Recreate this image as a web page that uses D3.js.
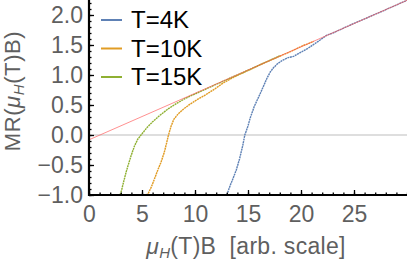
<!DOCTYPE html>
<html lang="en">
  <head>
    <meta charset="utf-8" />
    <script src="https://d3js.org/d3.v7.min.js"></script>
    <style>
      body { margin: 0; background: white; }
      text { font-family: "Liberation Sans", Arial, sans-serif; }
    </style>
  </head>
  <body>
    <script type="text/javascript">

      // data
      var seriesNames = ["T=4K", "T=10K", "T=15K"];
      var seriesColors = ["#5e81b5", "#e19c24", "#8fb032"];

      var blueX = [0, 13.0, 13.3, 13.6, 13.9, 14.2, 14.5, 14.7, 15.0, 15.2, 15.6,
                   16.1, 16.5, 16.8, 17.1, 17.4, 17.8, 18.3, 18.8, 19.3, 19.8,
                   20.2, 20.7, 21.2, 21.7, 22.4, 23, 25, 27.5, 30];
      var blueY = [-1, -1, -0.85, -0.72, -0.58, -0.4, -0.18, 0.0, 0.15, 0.28, 0.48,
                   0.67, 0.83, 0.95, 1.05, 1.12, 1.19, 1.25, 1.29, 1.31, 1.36,
                   1.40, 1.45, 1.51, 1.57, 1.66, 1.70, 1.86, 2.05, 2.245];

      var orangeX = [0, 5.4, 5.6, 5.9, 6.2, 6.5, 6.8, 7.1, 7.3, 7.5, 7.75, 8.0,
                     8.4, 8.9, 9.5, 10.2, 11.0, 11.8, 12.6, 13.4, 14.2, 15.2,
                     16.4, 17.7, 19.0, 20.2, 21.2];
      var orangeY = [-1, -1, -0.97, -0.86, -0.72, -0.58, -0.45, -0.29, -0.15, 0.0,
                     0.15, 0.26, 0.35, 0.43, 0.51, 0.59, 0.67, 0.76, 0.86, 0.94,
                     1.01, 1.09, 1.19, 1.29, 1.39, 1.49, 1.56];

      var greenX = [0, 2.9, 3.0, 3.24, 3.5, 3.7, 4.0, 4.3, 4.6, 5.0, 5.5, 6.0,
                    6.7, 7.5, 8.3, 9.2, 10.2, 11.2, 12.2, 13.2, 14.5, 16, 17, 18];
      var greenY = [-1, -1, -0.97, -0.8, -0.62, -0.5, -0.33, -0.18, -0.07, 0.02,
                    0.13, 0.22, 0.33, 0.44, 0.53, 0.62, 0.7, 0.78, 0.86, 0.94,
                    1.04, 1.16, 1.24, 1.32];

      // straight reference line (red)
      var fitX = [0, 30];
      var fitY = [-0.08, 2.245];

      var yMajorTicks = [-1, -0.5, 0, 0.5, 1, 1.5, 2];
      var xMajorTicks = [0, 5, 10, 15, 20, 25];

      // variables svg
      var w = 407;
      var h = 264;
      var plotLeft = 89;
      var plotRight = 407;
      var plotTop = 0;
      var plotBottom = 195;

      var svg = d3.select("body")
                  .append("svg")
                  .attr("width", w)
                  .attr("height", h);

      var xScale = d3.scaleLinear().domain([0, 30]).range([plotLeft, plotRight]);
      var yScale = d3.scaleLinear().domain([-1, 2.25]).range([plotBottom, plotTop]);

      svg.append("clipPath")
         .attr("id", "plotArea")
         .append("rect")
         .attr("x", plotLeft)
         .attr("y", plotTop)
         .attr("width", plotRight - plotLeft)
         .attr("height", plotBottom - plotTop);

      var line = d3.line()
                   .x(function(d) { return xScale(d[0]); })
                   .y(function(d) { return yScale(d[1]); });

      var plot = svg.append("g").attr("clip-path", "url(#plotArea)");

      // zero line
      plot.append("path")
          .datum([[0, 0], [30, 0]])
          .attr("d", line)
          .attr("fill", "none")
          .attr("stroke", "#bdbdbd")
          .attr("stroke-width", 1);

      // the three curves
      var curves = [d3.zip(blueX, blueY), d3.zip(orangeX, orangeY), d3.zip(greenX, greenY)];
      curves.forEach(function(c, i) {
        plot.append("path")
            .datum(c)
            .attr("d", line)
            .attr("fill", "none")
            .attr("stroke", seriesColors[i])
            .attr("stroke-width", 1.4)
            .attr("stroke-dasharray", "2,0.6");
      });

      // red line on top
      plot.append("path")
          .datum(d3.zip(fitX, fitY))
          .attr("d", line)
          .attr("fill", "none")
          .attr("stroke", "#ff5a5a")
          .attr("stroke-opacity", 0.75)
          .attr("stroke-width", 0.9);

      // axes: minor ticks first, then major ticks with labels
      var yMinor = d3.range(-10, 23).map(function(v) { return v / 10; });
      var xMinor = d3.range(0, 31);

      svg.append("g")
         .attr("transform", "translate(" + plotLeft + ",0)")
         .call(d3.axisLeft(yScale).tickValues(yMinor).tickFormat("")
                 .tickSizeInner(-2.5).tickSizeOuter(0));
      svg.append("g")
         .attr("transform", "translate(0," + plotBottom + ")")
         .call(d3.axisBottom(xScale).tickValues(xMinor).tickFormat("")
                 .tickSizeInner(-2.5).tickSizeOuter(0));

      svg.append("g")
         .attr("class", "axis")
         .attr("transform", "translate(" + plotLeft + ",0)")
         .call(d3.axisLeft(yScale).tickValues(yMajorTicks)
                 .tickFormat(function(d) { return d3.format(".1f")(d).replace("-", "\u2212"); })
                 .tickSizeInner(-5).tickSizeOuter(0).tickPadding(6));

      svg.append("g")
         .attr("class", "axis")
         .attr("transform", "translate(0," + plotBottom + ")")
         .call(d3.axisBottom(xScale).tickValues(xMajorTicks)
                 .tickFormat(d3.format("d"))
                 .tickSizeInner(-5).tickSizeOuter(0).tickPadding(11));

      svg.selectAll(".domain").remove();
      svg.selectAll(".tick line").attr("stroke", "black").attr("stroke-width", 1.3);
      svg.selectAll(".axis text")
         .attr("fill", "#5f5f5f")
         .style("font-size", "23px");

      // frame lines (left and bottom only)
      svg.append("line")
         .attr("x1", plotLeft).attr("x2", plotLeft)
         .attr("y1", plotTop).attr("y2", plotBottom + 1)
         .attr("stroke", "black").attr("stroke-width", 2.2);
      svg.append("line")
         .attr("x1", plotLeft - 1).attr("x2", plotRight)
         .attr("y1", plotBottom).attr("y2", plotBottom)
         .attr("stroke", "black").attr("stroke-width", 2.2);

      // x label
      var xLabel = svg.append("text")
         .attr("x", (plotLeft + plotRight) / 2 - 2)
         .attr("y", 254)
         .attr("fill", "#5f5f5f")
         .style("font-size", "23px")
         .style("letter-spacing", "0.3px")
         .style("text-anchor", "middle");
      xLabel.append("tspan").style("font-style", "italic").text("\u03bc");
      xLabel.append("tspan").style("font-style", "italic").style("font-size", "15px")
            .attr("dy", 4).text("H");
      xLabel.append("tspan").attr("dy", -4).text("(T)B\u00a0\u00a0[arb. scale]");

      // y label
      var yLabel = svg.append("text")
         .attr("transform", "translate(20," + 91 + ") rotate(-90)")
         .attr("fill", "#5f5f5f")
         .style("font-size", "22px")
         .style("letter-spacing", "0.6px")
         .style("text-anchor", "middle");
      yLabel.append("tspan").text("MR(");
      yLabel.append("tspan").style("font-style", "italic").text("\u03bc");
      yLabel.append("tspan").style("font-style", "italic").style("font-size", "15px")
            .attr("dy", 4).text("H");
      yLabel.append("tspan").attr("dy", -4).text("(T)B)");

      // legend
      var legend = svg.selectAll(".legend")
         .data(seriesNames)
         .enter()
         .append("g")
         .attr("class", "legend")
         .attr("transform", function(d, i) { return "translate(0," + (20 + i * 28.5) + ")"; });
      legend.append("line")
         .attr("x1", 101).attr("x2", 122)
         .attr("stroke", function(d, i) { return seriesColors[i]; })
         .attr("stroke-width", 2);
      legend.append("text")
         .attr("x", 131)
         .attr("y", 8)
         .attr("fill", "black")
         .style("font-size", "24px")
         .text(function(d) { return d; });

    </script>
  </body>
</html>
